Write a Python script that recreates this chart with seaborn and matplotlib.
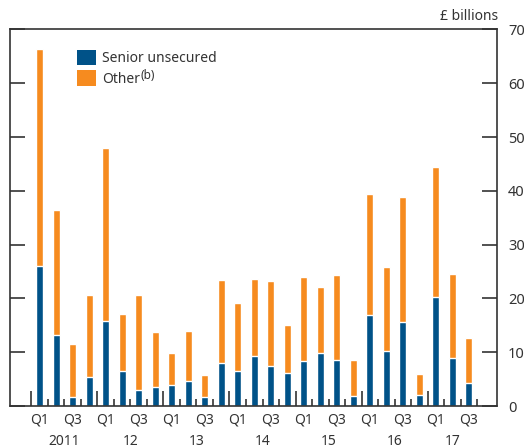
"""
Bank debt issuance by type, quarterly 2011-2017
"""
import numpy as np
import pandas as pd
import matplotlib
matplotlib.use('Agg')
import matplotlib.pyplot as plt
from matplotlib.patches import Patch
import seaborn as sns

# Quarterly data (£ billions), 2011 Q1 to 2017 Q3
years = ['2011', '12', '13', '14', '15', '16', '17']
quarters = ['Q1', 'Q2', 'Q3', 'Q4']
senior = [26.1, 13.2, 1.7, 5.4,
          15.8, 6.5, 3.0, 3.5,
          3.9, 4.7, 1.7, 8.0,
          6.5, 9.3, 7.4, 6.2,
          8.4, 9.9, 8.6, 1.9,
          16.9, 10.2, 15.6, 2.0,
          20.3, 8.9, 4.3]
total = [66.3, 36.5, 11.5, 20.7,
         47.9, 17.1, 20.7, 13.8,
         9.9, 14.0, 5.8, 23.5,
         19.2, 23.6, 23.3, 15.1,
         24.0, 22.2, 24.4, 8.6,
         39.5, 25.9, 38.9, 6.0,
         44.5, 24.6, 12.7]
other = [t - s for t, s in zip(total, senior)]

BLUE = '#005288'
ORANGE = '#F68B1F'
DARK = '#333333'

labels = [f'{y} {q}' for y in years for q in quarters][:len(senior)]
df = pd.DataFrame({'period': labels, 'senior': senior, 'other': other})
df['total'] = df['senior'] + df['other']

sns.set_style('white')
plt.rcParams['font.family'] = ['Noto Sans', 'DejaVu Sans']

fig = plt.figure(figsize=(5.24, 4.48), dpi=100)
ax = fig.add_axes([10 / 524, 42 / 448, 487 / 524, 376.5 / 448])

# Stacked bars: total (orange) behind, senior unsecured (blue) in front
sns.barplot(data=df, x='period', y='total', color=ORANGE, width=0.42,
            saturation=1, ax=ax)
sns.barplot(data=df, x='period', y='senior', color=BLUE, width=0.42,
            saturation=1, ax=ax)

n = len(df)
ax.set_xlim(-1.79, 27.7)
ax.set_ylim(0, 70)
ax.set_xlabel('')
ax.set_ylabel('')

# y axis: ticks inside on both sides, labels on the right
ax.set_yticks(range(0, 71, 10))
ax.tick_params(axis='y', which='major', direction='in', length=11, width=1.2,
               color=DARK, left=True, right=True, labelleft=False,
               labelright=True, labelsize=10.5, labelcolor=DARK, pad=8)

# x axis: boundary ticks (long at year start, short between quarters)
bounds = np.arange(n + 1) - 0.5
year_bounds = [b for i, b in enumerate(bounds) if i % 4 == 0 and i < n]
qtr_bounds = [b for i, b in enumerate(bounds) if i % 4 != 0]
ax.set_xticks(year_bounds)
ax.set_xticks(qtr_bounds, minor=True)
ax.set_xticklabels([])
ax.tick_params(axis='x', which='major', direction='in', length=10.5,
               width=1.2, color=DARK, bottom=True)
ax.tick_params(axis='x', which='minor', direction='in', length=5,
               width=1.2, color=DARK, bottom=True)

trans = ax.get_xaxis_transform()
for i, lab in enumerate(labels):
    q = lab.split()[1]
    if q in ('Q1', 'Q3'):
        ax.text(i, -0.037, q, transform=trans, ha='center', va='center',
                fontsize=10, color=DARK)
for y in years:
    idx = [i for i, lab in enumerate(labels) if lab.split()[0] == y]
    ax.text(np.mean(idx), -0.094, y, transform=trans, ha='center',
            va='center', fontsize=10, color=DARK)

for side in ['left', 'right', 'top', 'bottom']:
    ax.spines[side].set_visible(True)
    ax.spines[side].set_color(DARK)
    ax.spines[side].set_linewidth(1.2)

fig.text(498 / 524, 1 - 17 / 448, '£ billions', ha='right', va='center',
         fontsize=10, color=DARK)

handles = [Patch(facecolor=BLUE, edgecolor='none', label='Senior unsecured'),
           Patch(facecolor=ORANGE, edgecolor='none', label='Other')]
leg = ax.legend(handles=handles, loc='upper left',
                bbox_to_anchor=(0.1376, 0.946), frameon=False, fontsize=10,
                handlelength=1.35, handleheight=1.35, handletextpad=0.45,
                labelspacing=0.3, borderaxespad=0, borderpad=0,
                labelcolor=DARK)

# superscript footnote marker after "Other"
fig.canvas.draw()
bb = leg.get_texts()[1].get_window_extent()
fig.text((bb.x1 + 0.5) / fig.bbox.width, (bb.y1 - 4) / fig.bbox.height,
         '(b)', ha='left', va='center', fontsize=8.5, color=DARK)

fig.savefig('out.png', dpi=100)
